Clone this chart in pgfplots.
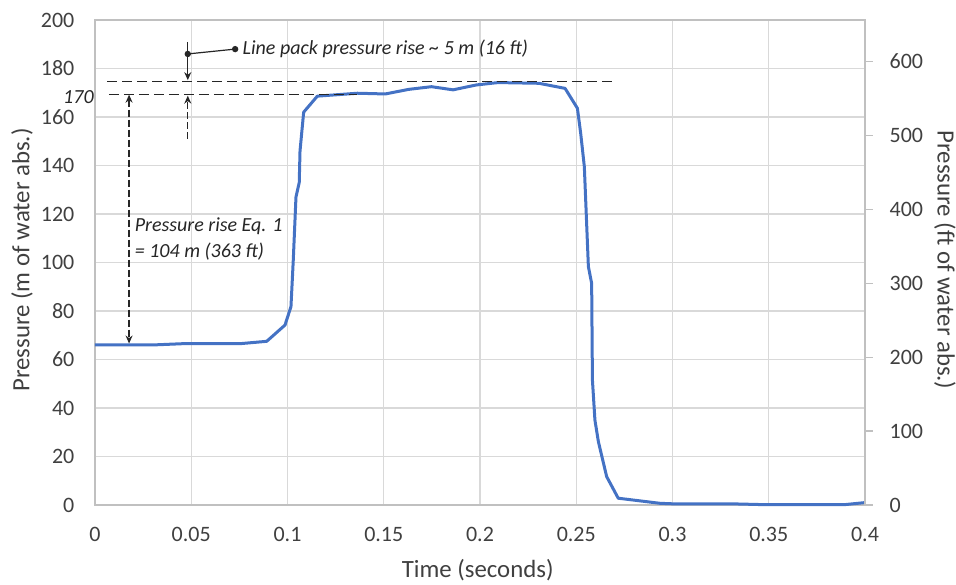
\documentclass[border=0pt]{standalone}
\usepackage{fontspec}
\setmainfont{Carlito}
\usepackage{pgfplots}
\pgfplotsset{compat=1.18}
\usetikzlibrary{arrows.meta}

\definecolor{lineblue}{HTML}{4472C4}
\definecolor{gridgray}{HTML}{D9D9D9}
\definecolor{axisgray}{HTML}{C0C0C0}
\definecolor{txt}{HTML}{404040}
\definecolor{anno}{HTML}{262626}

\pgfplotsset{
  base/.style={
    scale only axis,
    width=385pt, height=242.5pt,
    xmin=0, xmax=0.4,
    /pgf/number format/assume math mode=true,
    tick label style={font=\fontsize{11}{13}\selectfont, text=txt},
    label style={font=\fontsize{12.4}{14}\selectfont, text=txt},
  }
}

\begin{document}
\begin{tikzpicture}
\path[use as bounding box] (-47.5pt,-39.5pt) rectangle (430.5pt,252.5pt);

\begin{axis}[
  base,
  ymin=0, ymax=200,
  xtick={0,0.05,...,0.4},
  xticklabels={0,0.05,0.1,0.15,0.2,0.25,0.3,0.35,0.4},
  ytick={0,20,...,200},
  grid=major,
  grid style={draw=gridgray, line width=0.6pt},
  axis line style={draw=axisgray, line width=0.6pt},
  major tick length=0pt,
  xticklabel style={yshift=-7.5pt},
  yticklabel style={xshift=-6.8pt},
  xlabel={Time (seconds)},
  xlabel style={at={(axis description cs:0.497,-0.134)}, anchor=center},
  ylabel={Pressure (m of water abs.)},
  ylabel style={at={(axis description cs:-0.0948,0.505)}, anchor=center},
  clip=false,
]
\addplot[lineblue, line width=1.5pt, line join=round] coordinates {
  (0,66) (0.03,66) (0.045,66.5) (0.075,66.5) (0.0892,67.5) (0.0987,74.2)
  (0.1018,81.8) (0.103,101) (0.1044,127) (0.1061,133) (0.1065,146)
  (0.1084,162) (0.1155,168.6) (0.1363,169.8) (0.1508,169.5) (0.163,171.4)
  (0.1748,172.5) (0.186,171.2) (0.198,173.2) (0.2094,174.2) (0.2306,173.9)
  (0.2442,171.8) (0.2506,163.6) (0.2523,153.3) (0.2542,139.5) (0.2563,98.3)
  (0.258,91.4) (0.2584,51.5) (0.2597,35) (0.2615,26.1) (0.2658,11.7)
  (0.2718,2.8) (0.2935,0.7) (0.3,0.5) (0.33,0.5) (0.345,0.2) (0.39,0.2) (0.4,1)
};

% annotations
\draw[anno, line width=0.6pt, dash pattern=on 5pt off 2.5pt]
  (axis cs:0.0064,174.6) -- (axis cs:0.269,174.6);
\draw[anno, line width=0.6pt, dash pattern=on 5pt off 2.5pt]
  (axis cs:0.0072,169.4) -- (axis cs:0.136,169.4);
\node[anchor=east, inner sep=0pt, font=\fontsize{10}{12}\selectfont\itshape, text=anno]
  at (axis cs:-0.0005,168.3) {170};

\draw[anno, line width=0.6pt, dash pattern=on 3.5pt off 1.5pt,
      {Stealth[length=4pt,width=3.5pt]}-{Stealth[length=4pt,width=3.5pt]}]
  (axis cs:0.0177,169.2) -- (axis cs:0.0177,66.6);
\node[anchor=west, inner sep=0pt, font=\fontsize{10}{12}\selectfont\itshape, text=anno]
  at (axis cs:0.0205,115) {Pressure rise Eq. 1};
\node[anchor=west, inner sep=0pt, font=\fontsize{10}{12}\selectfont\itshape, text=anno]
  at (axis cs:0.0205,104.5) {= 104 m (363 ft)};

\draw[anno, line width=0.6pt, -{Stealth[length=4pt,width=3.5pt]}]
  (axis cs:0.0482,191) -- (axis cs:0.0482,175.2);
\draw[anno, line width=0.6pt, dash pattern=on 3.5pt off 1.5pt, -{Stealth[length=4pt,width=3.5pt]}]
  (axis cs:0.0482,151) -- (axis cs:0.0482,168.8);
\draw[anno, line width=0.6pt] (axis cs:0.0482,186) -- (axis cs:0.0728,188);
\fill[anno] (axis cs:0.0482,186) circle (1.6pt);
\fill[anno] (axis cs:0.0728,188) circle (1.6pt);
\node[anchor=west, inner sep=0pt, font=\fontsize{10}{12}\selectfont\itshape, text=anno]
  at (axis cs:0.0765,188.3) {Line pack pressure rise \textasciitilde{} 5 m (16 ft)};
\end{axis}

\begin{axis}[
  base,
  ymin=0, ymax=656.168,
  axis x line=none,
  axis y line*=right,
  ytick={0,100,...,600},
  axis line style={draw=axisgray, line width=0.6pt},
  tick style={draw=axisgray, line width=0.6pt},
  tick align=outside,
  major tick length=3.8pt,
  yticklabel style={xshift=5pt},
  ylabel={Pressure (ft of water abs.)},
  ylabel style={at={(axis description cs:1.1039,0.505)}, anchor=center, rotate=180},
]
\end{axis}
\end{tikzpicture}
\end{document}
